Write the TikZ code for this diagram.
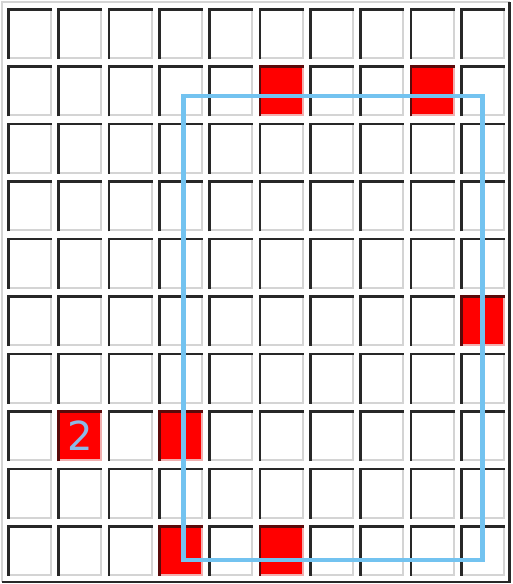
\documentclass[tikz,border=0pt]{standalone}
\usepackage{fontspec}
\newfontfamily\digitfont{DejaVu Sans}
\definecolor{darkedge}{RGB}{40,40,40}
\definecolor{lightedge}{RGB}{212,212,212}
\definecolor{reddark}{RGB}{90,10,10}
\definecolor{redlight}{RGB}{240,175,175}
\definecolor{cellred}{RGB}{255,0,0}
\definecolor{selblue}{RGB}{115,195,240}
\definecolor{numblue}{RGB}{140,185,230}
\newcommand\mycell[5]{%
  \pgfmathsetmacro\xa{7+50.33*#1}%
  \pgfmathsetmacro\ya{8+57.44*#2}%
  \fill[#3] (\xa,\ya) rectangle ++(45,51);
  \draw[#5,line width=2pt] (\xa+44,\ya+2) -- (\xa+44,\ya+50) -- (\xa+2,\ya+50);
  \draw[#4,line width=2.6pt] (\xa+1.3,\ya+51) -- (\xa+1.3,\ya+1.3) -- (\xa+45,\ya+1.3);
}
\begin{document}
\begin{tikzpicture}[x=1pt,y=-1pt,
  selection/.style={draw=selblue,line width=4.5pt},
  numlabel/.style={text=numblue,inner sep=0pt,font=\digitfont\fontsize{40}{40}\selectfont}]
\fill[white] (0,0) rectangle (513,584);
\useasboundingbox (0,0) rectangle (513,584);
% outer frame
\draw[lightedge,line width=2pt] (2,582) -- (2,2) -- (510,2);
\draw[darkedge,line width=2.5pt] (509.5,2) -- (509.5,582) -- (2,582);
% grid
\foreach \r in {0,...,9}{
  \foreach \c in {0,...,9}{
    \mycell{\c}{\r}{white}{darkedge}{lightedge}
  }
}
% red cells
\foreach \c/\r in {5/1,8/1,9/5,1/7,3/7,3/9,5/9}{
  \mycell{\c}{\r}{cellred}{reddark}{redlight}
}
% number
\node[numlabel] (two) at (79.8,436) {2};
% selection rectangle
\draw[selection] (183.5,96) rectangle (482.5,560);
\end{tikzpicture}
\end{document}
